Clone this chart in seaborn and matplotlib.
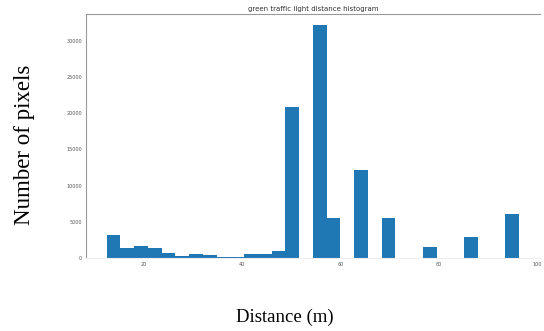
import numpy as np
import pandas as pd
import matplotlib
matplotlib.use("Agg")
import matplotlib.pyplot as plt
import seaborn as sns

# histogram: 30 equal bins between these distances
dist_min = 12.5
dist_max = 96.3
n_bins = 30
counts = [3200, 1400, 1650, 1400, 700, 250, 550, 500, 150, 150,
          550, 550, 950, 20800, 0, 32100, 5500, 0, 12100, 0,
          5550, 0, 0, 1600, 0, 0, 2900, 0, 0, 6100]

x_ticks = [20, 40, 60, 80, 100]
y_ticks = [0, 5000, 10000, 15000, 20000, 25000, 30000]

edges = np.linspace(dist_min, dist_max, n_bins + 1)
df = pd.DataFrame({'distance': (edges[:-1] + edges[1:]) / 2, 'pixels': counts})

sns.set_theme(style="white")
plt.rcParams['font.family'] = ['DejaVu Sans']

fig = plt.figure(figsize=(5.44, 3.31), dpi=100)
ax = fig.add_axes([0.158, 0.22, 0.834, 0.738])

sns.histplot(data=df, x='distance', weights='pixels', bins=n_bins,
             binrange=(dist_min, dist_max),
             color='#1f77b4', alpha=1, linewidth=0, ax=ax)
ax.margins(x=0.05)
ax.set_ylim(0, 33700)

ax.set_xticks(x_ticks)
ax.set_yticks(y_ticks)
ax.tick_params(labelsize=3.5, length=2, width=0.5, colors='#555555', pad=1)
for s in ax.spines.values():
    s.set_color('#999999')
    s.set_linewidth(0.8)
ax.spines['bottom'].set_color('#eeeeee')
ax.spines['right'].set_visible(False)

ax.set_title("green traffic light distance histogram", fontsize=5, pad=2, color='#333333')

ax.set_xlabel("Distance (m)", family='Liberation Serif', fontsize=13.5, color='black',
              va='center')
ax.xaxis.set_label_coords(285 / 544, 1 - 317 / 331, transform=fig.transFigure)
ax.set_ylabel("Number of pixels", family='Liberation Serif', fontsize=16.5, color='black',
              va='center')
ax.yaxis.set_label_coords(25 / 544, 1 - 145 / 331, transform=fig.transFigure)

fig.savefig("out.png", dpi=100)
